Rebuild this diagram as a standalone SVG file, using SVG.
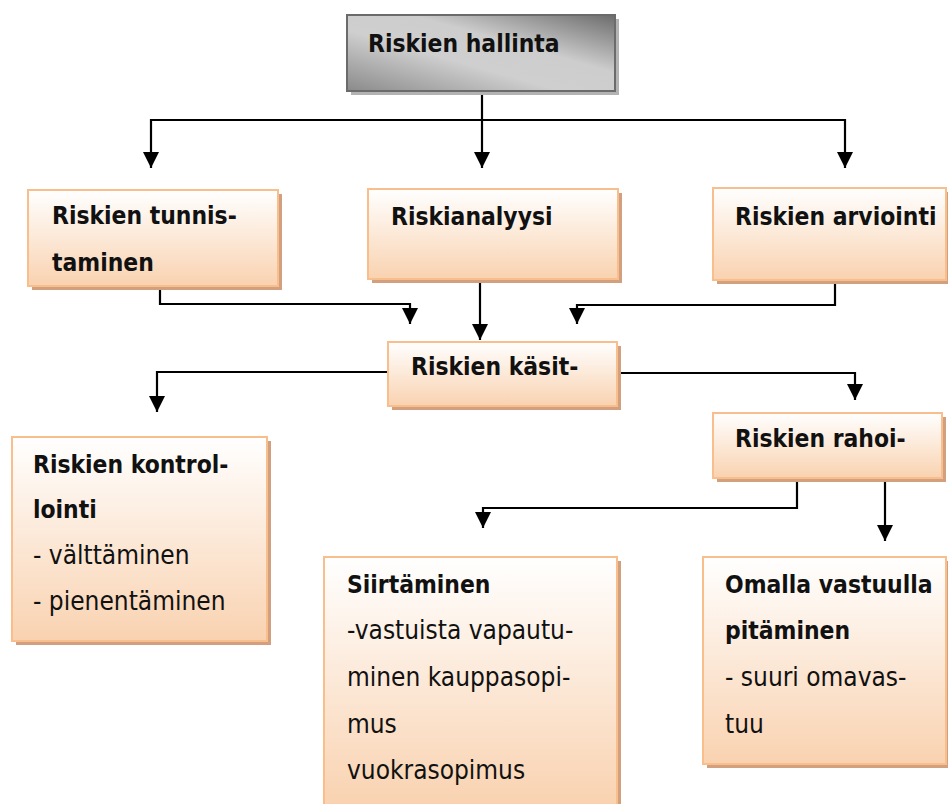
<svg xmlns="http://www.w3.org/2000/svg" width="948" height="804" viewBox="0 0 948 804">
  <defs>
    <linearGradient id="peach" x1="0" y1="0" x2="0" y2="1">
      <stop offset="0" stop-color="#ffffff"/>
      <stop offset="1" stop-color="#f9d2b0"/>
    </linearGradient>
    <linearGradient id="steel" x1="0" y1="1" x2="1" y2="0">
      <stop offset="0" stop-color="#8a8a8a"/>
      <stop offset="0.4" stop-color="#cfcfcf"/>
      <stop offset="0.62" stop-color="#cdcdcd"/>
      <stop offset="1" stop-color="#6c6c6c"/>
    </linearGradient>
    <!-- solid triangular arrowhead, tip at the end of the line -->
    <marker id="arr" viewBox="0 0 16 16" refX="16" refY="8" markerWidth="16" markerHeight="16" markerUnits="userSpaceOnUse" orient="auto">
      <path d="M0,0 L16,8 L0,16 Z" fill="#000"/>
    </marker>
    <style>
      .box { fill: url(#peach); stroke: #f8bf8c; stroke-width: 2; }
      .shadow { fill: #d2a07f; }
      .t { font-family: "DejaVu Sans Condensed", "DejaVu Sans", Verdana, sans-serif; font-size: 24.4px; fill: #111; }
      .b { font-weight: bold; }
      .r { font-size: 26px; }
      .c { fill: none; stroke: #000; stroke-width: 2.2; }
      .a { marker-end: url(#arr); }
    </style>
  </defs>

  <!-- connectors -->
  <g id="connectors">
    <path class="c" d="M151,120 H845"/>
    <path class="c a" d="M151,119 V168"/>
    <path class="c a" d="M482,92 V168"/>
    <path class="c a" d="M845,119 V168"/>
    <path class="c" d="M160,287 V304 H410"/>
    <path class="c a" d="M410,303 V324"/>
    <path class="c a" d="M480,283 V340"/>
    <path class="c" d="M835,284 V305 H577"/>
    <path class="c a" d="M577,304 V324"/>
    <path class="c" d="M388,372 H157"/>
    <path class="c a" d="M157,371 V412"/>
    <path class="c" d="M621,373 H855"/>
    <path class="c a" d="M855,372 V400"/>
    <path class="c" d="M797,479 V508 H483"/>
    <path class="c a" d="M483,507 V528"/>
    <path class="c a" d="M885,479 V541"/>
  </g>

  <!-- root node -->
  <g id="riskien-hallinta">
    <rect x="351" y="19" width="268" height="76" fill="#b3b3b3"/>
    <rect x="347" y="15" width="268" height="76" fill="url(#steel)" stroke="#6b6b6b" stroke-width="2"/>
    <text class="t b" x="368" y="52">Riskien hallinta</text>
  </g>

  <g id="riskien-tunnistaminen">
    <rect class="shadow" x="32" y="194" width="250" height="96"/>
    <rect class="box" x="28" y="190" width="250" height="96"/>
    <text class="t b" x="52" y="224">Riskien tunnis-</text>
    <text class="t b" x="52" y="271">taminen</text>
  </g>

  <g id="riskianalyysi">
    <rect class="shadow" x="372" y="193" width="250" height="90"/>
    <rect class="box" x="368" y="189" width="250" height="90"/>
    <text class="t b" x="391" y="225">Riskianalyysi</text>
  </g>

  <g id="riskien-arviointi">
    <rect class="shadow" x="717" y="192" width="235" height="92"/>
    <rect class="box" x="713" y="188" width="233" height="92"/>
    <text class="t b" x="735" y="225">Riskien arviointi</text>
  </g>

  <g id="riskien-kasittely">
    <rect class="shadow" x="392" y="346" width="229" height="64"/>
    <rect class="box" x="388" y="342" width="229" height="64"/>
    <text class="t b" x="411" y="375">Riskien käsit-</text>
  </g>

  <g id="riskien-rahoitus">
    <rect class="shadow" x="717" y="417" width="229" height="65"/>
    <rect class="box" x="713" y="413" width="229" height="65"/>
    <text class="t b" x="735" y="447">Riskien rahoi-</text>
  </g>

  <g id="riskien-kontrollointi">
    <rect class="shadow" x="16" y="441" width="255" height="204"/>
    <rect class="box" x="12" y="437" width="255" height="204"/>
    <text class="t b" x="33" y="473">Riskien kontrol-</text>
    <text class="t b" x="33" y="518">lointi</text>
    <text class="t r" x="33" y="564">- välttäminen</text>
    <text class="t r" x="33" y="610">- pienentäminen</text>
  </g>

  <g id="siirtaminen">
    <rect class="shadow" x="328" y="561" width="293" height="250"/>
    <rect class="box" x="324" y="557" width="293" height="250"/>
    <text class="t b" x="347" y="593">Siirtäminen</text>
    <text class="t r" x="347" y="639">-vastuista vapautu-</text>
    <text class="t r" x="347" y="686">minen kauppasopi-</text>
    <text class="t r" x="347" y="733">mus</text>
    <text class="t r" x="347" y="779">vuokrasopimus</text>
  </g>

  <g id="omalla-vastuulla">
    <rect class="shadow" x="707" y="561" width="245" height="207"/>
    <rect class="box" x="703" y="557" width="243" height="207"/>
    <text class="t b" x="725" y="593">Omalla vastuulla</text>
    <text class="t b" x="725" y="639">pitäminen</text>
    <text class="t r" x="725" y="686">- suuri omavas-</text>
    <text class="t r" x="725" y="733">tuu</text>
  </g>
</svg>
